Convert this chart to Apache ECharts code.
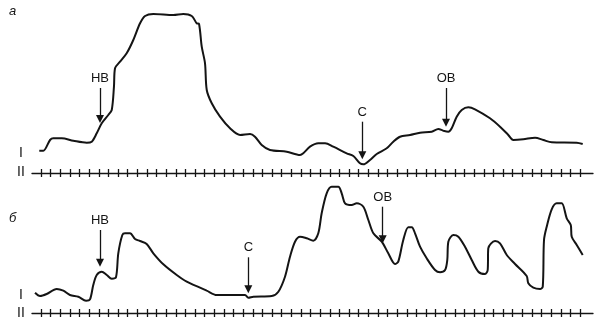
<!DOCTYPE html>
<html>
<head>
<meta charset="utf-8">
<script src="https://cdn.jsdelivr.net/npm/echarts@6/dist/echarts.min.js"></script>
<style>html,body{margin:0;padding:0;background:#fff}#c{width:600px;height:330px}</style>
</head>
<body>
<div id="c"></div>
<script>
// Panel а (top trace): time (tick units ×10) and level (above record baseline)
const topTime = [-1.8,2.4,9.4,12.8,21.5,33.6,47.5,52.7,57.9,63.1,69.9,73.5,75.8,76.9,82.1,89.0,95.9,102.9,108.1,116.7,137.5,147.8,156.6,161.8,164.2,167.0,170.4,172.2,177.4,186.0,196.4,206.8,217.2,222.3,229.3,237.9,255.3,269.1,272.5,279.5,288.1,295.1,303.7,317.6,324.5,331.4,334.9,341.8,348.8,359.2,366.0,373.0,383.4,393.8,405.9,412.8,418.0,423.2,426.7,431.9,437.1,444.0,450.9,466.5,476.9,485.5,490.7,501.1,513.3,521.9,530.6,556.6,562.8];
const topLevel = [22.3,22.3,33,34.7,34.7,32.3,30.3,31.3,39.7,49.7,58,63,86.3,104.7,111.3,119.7,133,149.7,157,159,158,159,157,149.7,149,126.3,109.7,83,69.7,56.3,44.7,38,39,36.3,28,23,21.3,18,19.7,26.3,29.7,29.7,26.3,19.7,17,9.7,8.7,13,19,24.7,31.3,36.3,38,40.3,41.3,44,42.3,41.3,44.7,56.3,63,65.7,63.7,54.7,46.3,38,33,33.7,35.3,33,30.7,30.3,29];

// Panel б (bottom trace)
const botTime = [-6.2,-1.0,5.9,16.3,23.2,30.1,38.8,46.8,50.9,54.3,57.9,63.1,68.3,73.5,77.9,80.3,84.5,87.3,92.5,97.7,102.9,109.8,116.7,127.1,141.0,151.4,165.2,172.2,182.6,199.8,212.0,215.4,220.6,239.7,246.6,253.5,258.7,263.9,269.1,276.1,282.9,288.1,291.6,296.8,302.0,308.9,312.4,315.9,322.8,328.0,334.9,340.1,345.3,354.0,360.8,367.8,371.2,376.4,381.6,385.2,388.6,393.8,400.7,409.4,414.6,419.8,422.1,423.2,428.4,433.6,440.5,447.5,454.4,461.3,464.1,464.7,471.7,476.9,483.9,492.5,504.6,506.3,511.5,518.5,521.3,522.6,525.4,530.6,535.8,541.0,546.2,550.4,551.4,556.6,562.8];
const botLevel = [20.3,17,19,24,22.3,18,16.3,12.3,13.7,28,38,41.3,38,34.3,35.7,59.7,78,79.7,79.7,74,72,69,59.7,48.7,38,31.3,25.3,22.3,18,18,18,15.3,16.3,17,21.3,36.3,56.3,71.3,76.3,74.7,72.3,79.7,99.7,119.7,126.3,126.3,119.7,109.7,108,109.7,106.3,93,79.7,71.3,59.7,49,51.3,73,85.7,85.7,79.7,66.3,54.7,43,40.7,43,53,71.3,78,76.3,66.3,53,41.3,39,43,64.7,72,69.7,58,49,37,29.7,25.3,24,26.3,73,86.3,103.7,109.7,109.7,94.7,88,76.3,68,58];

// Event arrows
const topArrowLabels = ['НВ','С','ОВ'];
const topArrowTime   = [61.3, 333.8, 420.8];
const topArrowFrom   = [85, 51.3, 85];
const topArrowTo     = [54, 17.7, 50.3];
const botArrowLabels = ['НВ','С','ОВ'];
const botArrowTime   = [61.3, 215.4, 355.0];
const botArrowFrom   = [83, 55.7, 106.3];
const botArrowTo     = [50.3, 23.7, 73.7];

const tickValues = [];
for (let i = 0; i <= 56; i++) tickValues.push(i * 10);

const INK = '#141414';
const FONT = '"Liberation Sans", Arial, sans-serif';

function pairs(xs, ys){ return xs.map((x,i)=>[x, ys[i]]); }
function arrows(labels, t, from, to){
  return labels.map((l,i)=>[
    {coord:[t[i], from[i]], name:l, symbol:'none'},
    {coord:[t[i], to[i]], symbol:'triangle'}
  ]);
}
function xAxes(gi){
  const base = {type:'value', gridIndex:gi, min:-9.35, max:573.5, position:'bottom',
    splitLine:{show:false}, axisLabel:{show:false}};
  return [
    Object.assign({}, base, {axisLine:{show:true, lineStyle:{color:INK, width:1.3}},
      axisTick:{show:true, inside:true, length:4, customValues:tickValues, lineStyle:{color:INK, width:1.3}}}),
    Object.assign({}, base, {axisLine:{show:false},
      axisTick:{show:true, inside:false, length:4, customValues:tickValues, lineStyle:{color:INK, width:1.3}}})
  ];
}
function yAxis(gi){
  return {type:'value', gridIndex:gi, min:0, max:170, show:false};
}
function trace(gi, data, arr){
  return {
    type:'line', xAxisIndex: gi*2, yAxisIndex: gi, data: data,
    smooth:0.3, showSymbol:false, silent:true,
    lineStyle:{color:INK, width:2},
    markLine:{
      silent:true, symbolSize:8, animation:false,
      lineStyle:{color:INK, width:1.3, type:'solid'},
      label:{show:true, position:'start', formatter:p=>p.name, color:INK,
        fontFamily:FONT, fontSize:13, distance:3},
      data: arr
    }
  };
}

const chart = echarts.init(document.getElementById('c'), null, {renderer:'canvas'});
chart.setOption({
  animation:false,
  backgroundColor:'#fff',
  grid:[
    {left:32, right:7, top:3, height:170},
    {left:32, right:7, top:143, height:170}
  ],
  xAxis: xAxes(0).concat(xAxes(1)),
  yAxis: [yAxis(0), yAxis(1)],
  series:[
    trace(0, pairs(topTime, topLevel), arrows(topArrowLabels, topArrowTime, topArrowFrom, topArrowTo)),
    trace(1, pairs(botTime, botLevel), arrows(botArrowLabels, botArrowTime, botArrowFrom, botArrowTo))
  ],
  graphic:[
    {type:'text', left:9, top:5, style:{text:'а', font:'italic 13px '+FONT, fill:INK}},
    {type:'text', left:9, top:212, style:{text:'б', font:'italic 13px '+FONT, fill:INK}},
    {type:'text', left:19, top:146, style:{text:'I', font:'14px '+FONT, fill:INK}},
    {type:'text', left:17, top:165, style:{text:'II', font:'14px '+FONT, fill:INK}},
    {type:'text', left:19, top:288, style:{text:'I', font:'14px '+FONT, fill:INK}},
    {type:'text', left:17, top:306, style:{text:'II', font:'14px '+FONT, fill:INK}}
  ]
});
</script>
</body>
</html>
